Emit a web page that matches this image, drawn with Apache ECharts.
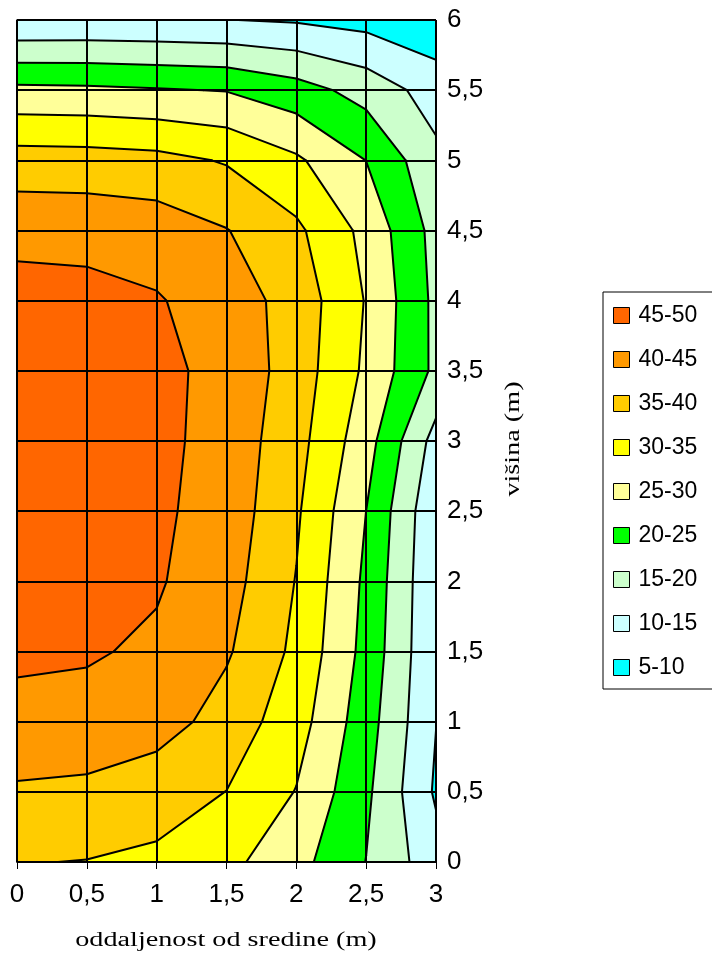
<!DOCTYPE html>
<html>
<head>
<meta charset="utf-8">
<script src="https://cdn.jsdelivr.net/npm/echarts@6/dist/echarts.min.js"></script>
<style>
html,body{margin:0;padding:0;background:#fff;}
#chart{width:712px;height:954px;}
</style>
</head>
<body>
<div id="chart"></div>
<script>
// distance from centre (m) – columns
const xValues = [0, 0.5, 1, 1.5, 2, 2.5, 3];
// height (m) – rows
const yValues = [0, 0.5, 1, 1.5, 2, 2.5, 3, 3.5, 4, 4.5, 5, 5.5, 6];
// values at grid points, one row per height (y = 0 ... 6), columns x = 0 ... 3
const valuesY0_0 = [35.2, 34.86, 34.2, 31.3, 26.7, 19.9, 12.0];
const valuesY0_5 = [39.4, 38.9, 36.9, 34.95, 29.8, 21.0, 9.3];
const valuesY1_0 = [43.3, 43.3, 42.3, 37.9, 32.2, 22.2, 10.1];
const valuesY1_5 = [46.0, 45.5, 44.2, 40.6, 33.9, 23.4, 10.4];
const valuesY2_0 = [47.5, 47.0, 45.5, 42.0, 34.8, 24.0, 10.5];
const valuesY2_5 = [47.8, 47.3, 45.9, 42.9, 35.7, 24.98, 10.8];
const valuesY3_0 = [48.0, 47.5, 46.3, 43.1, 36.8, 27.05, 13.1];
const valuesY3_5 = [47.8, 47.3, 46.0, 43.8, 37.6, 29.1, 18.9];
const valuesY4_0 = [47.05, 46.6, 45.4, 42.6, 38.0, 29.7, 18.8];
const valuesY4_5 = [43.4, 43.3, 42.6, 40.2, 36.0, 28.6, 18.3];
const valuesY5_0 = [37.3, 37.1, 36.5, 34.6, 30.8, 24.95, 16.2];
const valuesY5_5 = [26.2, 26.0, 25.4, 24.8, 22.1, 18.1, 12.8];
const valuesY6_0 = [10.4, 10.5, 10.4, 10.1, 9.5, 8.3, 6.3];
const gridValues = [valuesY0_0, valuesY0_5, valuesY1_0, valuesY1_5, valuesY2_0, valuesY2_5,
  valuesY3_0, valuesY3_5, valuesY4_0, valuesY4_5, valuesY5_0, valuesY5_5, valuesY6_0];

// contour bands (legend order)
const bandNames = ['45-50', '40-45', '35-40', '30-35', '25-30', '20-25', '15-20', '10-15', '5-10'];
const bandLow   = [45, 40, 35, 30, 25, 20, 15, 10, 5];
const bandHigh  = [50, 45, 40, 35, 30, 25, 20, 15, 10];
const bandColors = ['#FF6600', '#FF9900', '#FFCC00', '#FFFF00', '#FFFF99', '#00FF00', '#CCFFCC', '#CCFFFF', '#00FFFF'];
const contourLevels = [10, 15, 20, 25, 30, 35, 40, 45];
const xTickLabels = ['0', '0,5', '1', '1,5', '2', '2,5', '3'];
const yTickLabels = ['0', '0,5', '1', '1,5', '2', '2,5', '3', '3,5', '4', '4,5', '5', '5,5', '6'];

const cells = [];
for (let i = 0; i < xValues.length - 1; i++) {
  for (let j = 0; j < yValues.length - 1; j++) cells.push([i, j]);
}

function corners(i, j) {
  return [
    {x: xValues[i],     y: yValues[j],     v: gridValues[j][i]},
    {x: xValues[i + 1], y: yValues[j],     v: gridValues[j][i + 1]},
    {x: xValues[i + 1], y: yValues[j + 1], v: gridValues[j + 1][i + 1]},
    {x: xValues[i],     y: yValues[j + 1], v: gridValues[j + 1][i]}
  ];
}
function bandPolygon(c, lo, hi) {
  const pts = [];
  for (let k = 0; k < 4; k++) {
    const a = c[k], b = c[(k + 1) % 4];
    if (a.v >= lo && a.v < hi) pts.push([a.x, a.y]);
    const ts = [];
    [lo, hi].forEach(L => {
      if ((a.v - L) * (b.v - L) < 0) ts.push((L - a.v) / (b.v - a.v));
    });
    ts.sort((p, q) => p - q);
    ts.forEach(t => pts.push([a.x + t * (b.x - a.x), a.y + t * (b.y - a.y)]));
  }
  return pts;
}
function levelSegments(c, L) {
  const pts = [];
  for (let k = 0; k < 4; k++) {
    const a = c[k], b = c[(k + 1) % 4];
    if ((a.v - L) * (b.v - L) < 0) {
      const t = (L - a.v) / (b.v - a.v);
      pts.push([a.x + t * (b.x - a.x), a.y + t * (b.y - a.y)]);
    }
  }
  const segs = [];
  for (let k = 0; k + 1 < pts.length; k += 2) segs.push([pts[k], pts[k + 1]]);
  return segs;
}

const fillSeries = {
  type: 'custom', name: 'fill', z: 1, silent: true, clip: true,
  data: cells,
  renderItem: function (params, api) {
    const c = corners(api.value(0), api.value(1));
    const children = [];
    for (let b = 0; b < bandNames.length; b++) {
      const pts = bandPolygon(c, bandLow[b], bandHigh[b]);
      if (pts.length >= 3) {
        children.push({
          type: 'polygon', silent: true,
          shape: {points: pts.map(p => api.coord(p))},
          style: {fill: bandColors[b], stroke: bandColors[b], lineWidth: 0.6}
        });
      }
    }
    return {type: 'group', children: children};
  }
};
const lineSeries = {
  type: 'custom', name: 'contours', z: 6, silent: true, clip: true,
  data: cells,
  renderItem: function (params, api) {
    const c = corners(api.value(0), api.value(1));
    const children = [];
    contourLevels.forEach(L => {
      levelSegments(c, L).forEach(s => {
        children.push({
          type: 'polyline', silent: true,
          shape: {points: s.map(p => api.coord(p))},
          style: {stroke: '#000', lineWidth: 2, fill: null, lineCap: 'round'}
        });
      });
    });
    return {type: 'group', children: children};
  }
};
const legendSeries = bandNames.map((n, k) => ({
  type: 'scatter', name: n, data: [], itemStyle: {color: bandColors[k], opacity: 1}
}));

const tickFont = {fontFamily: 'Liberation Sans', fontSize: 26, color: '#000'};
const chart = echarts.init(document.getElementById('chart'), null, {renderer: 'canvas'});
chart.setOption({
  animation: false,
  backgroundColor: '#fff',
  grid: {left: 17, right: 276, top: 20, bottom: 92, containLabel: false},
  xAxis: {
    type: 'value', min: 0, max: 3, interval: 0.5, z: 4,
    axisLine: {show: true, lineStyle: {color: '#000', width: 1.5}},
    axisTick: {show: true, inside: false, length: 7, lineStyle: {color: '#000', width: 1}},
    splitLine: {show: true, showMinLine: true, showMaxLine: true, lineStyle: {color: '#000', width: 2}},
    axisLabel: Object.assign({margin: 20, formatter: v => xTickLabels[Math.round(v / 0.5)]}, tickFont)
  },
  yAxis: {
    type: 'value', position: 'right', min: 0, max: 6, interval: 0.5, z: 4,
    axisLine: {show: true, lineStyle: {color: '#000', width: 1.5}},
    axisTick: {show: true, inside: false, length: 8, lineStyle: {color: '#000', width: 1}},
    splitLine: {show: true, showMinLine: true, showMaxLine: true, lineStyle: {color: '#000', width: 2}},
    axisLabel: Object.assign({margin: 11, formatter: v => yTickLabels[Math.round(v / 0.5)]}, tickFont)
  },
  legend: {
    orient: 'vertical', left: 603, top: 292,
    padding: [12, 20, 10, 10],
    itemWidth: 16, itemHeight: 16, itemGap: 21,
    icon: 'rect',
    borderColor: '#000', borderWidth: 1,
    itemStyle: {borderColor: '#000', borderWidth: 1, opacity: 1},
    textStyle: {fontFamily: 'Liberation Sans', fontSize: 23, color: '#000', padding: [0, 0, 0, 4]},
    data: bandNames,
    selectedMode: false
  },
  graphic: [
    {type: 'text', x: 226, y: 941, scaleX: 1.41, silent: true,
     style: {text: 'oddaljenost od sredine (m)', font: '20px "Liberation Serif"', fill: '#000', align: 'center', verticalAlign: 'middle'}},
    {type: 'text', x: 514, y: 439, rotation: Math.PI / 2, scaleX: 1.41, silent: true,
     style: {text: 'višina (m)', font: '20px "Liberation Serif"', fill: '#000', align: 'center', verticalAlign: 'middle'}}
  ],
  series: [fillSeries, lineSeries].concat(legendSeries)
});
</script>
</body>
</html>
